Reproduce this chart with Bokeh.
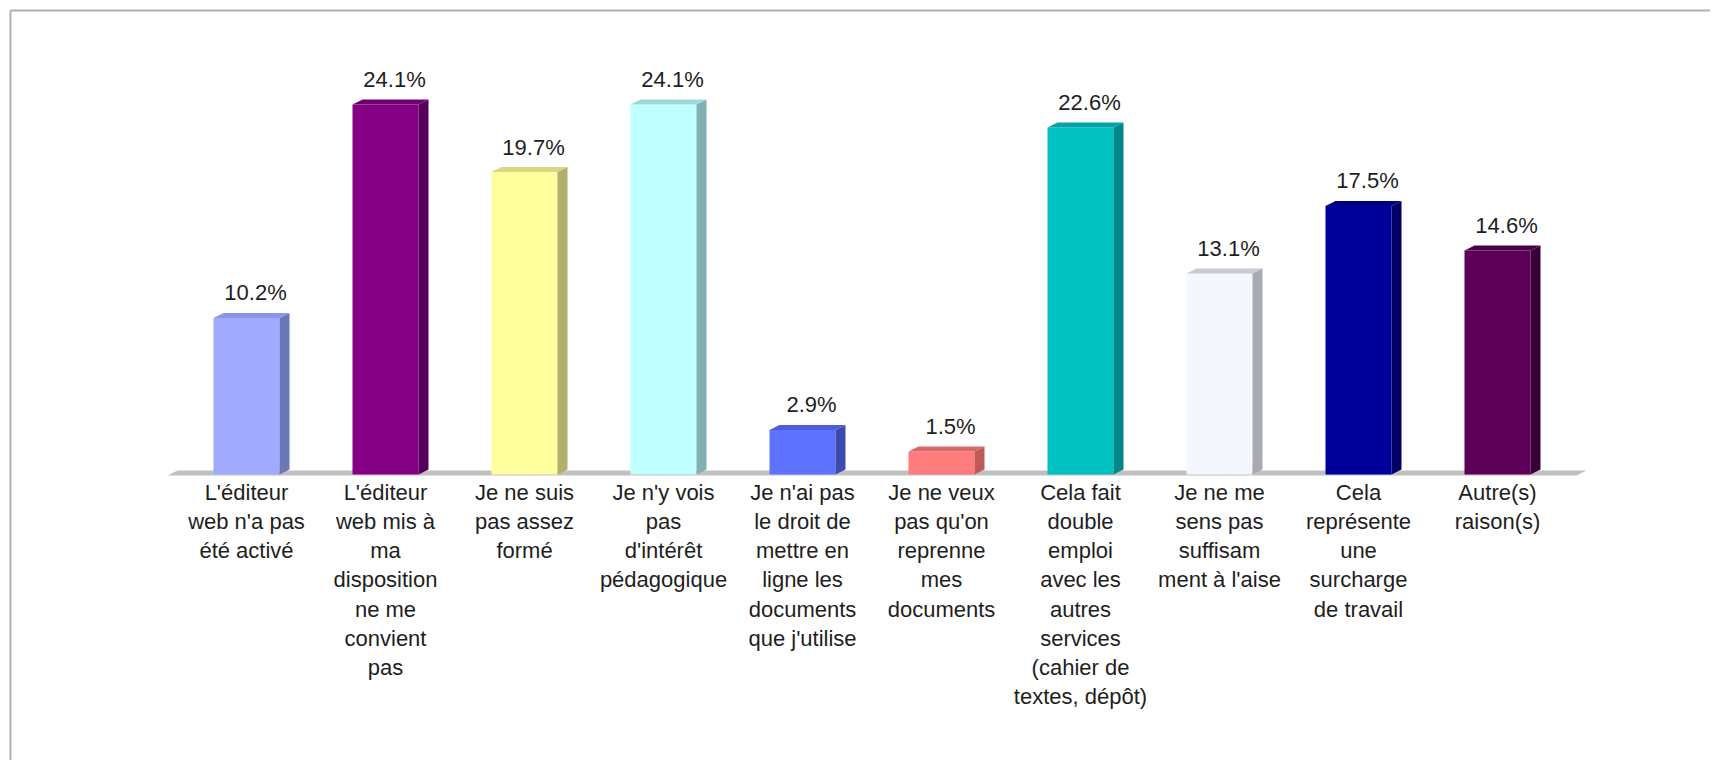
from bokeh.plotting import figure
from bokeh.models import Range1d, ColumnDataSource
from bokeh.core.properties import value
from bokeh.embed import file_html
from bokeh.resources import INLINE

categories = [
    "L'éditeur\nweb n'a pas\nété activé",
    "L'éditeur\nweb mis à\nma\ndisposition\nne me\nconvient\npas",
    "Je ne suis\npas assez\nformé",
    "Je n'y vois\npas\nd'intérêt\npédagogique",
    "Je n'ai pas\nle droit de\nmettre en\nligne les\ndocuments\nque j'utilise",
    "Je ne veux\npas qu'on\nreprenne\nmes\ndocuments",
    "Cela fait\ndouble\nemploi\navec les\nautres\nservices\n(cahier de\ntextes, dépôt)",
    "Je ne me\nsens pas\nsuffisam\nment à l'aise",
    "Cela\nreprésente\nune\nsurcharge\nde travail",
    "Autre(s)\nraison(s)",
]
values = [10.2, 24.1, 19.7, 24.1, 2.9, 1.5, 22.6, 13.1, 17.5, 14.6]
front_colors = ["#a0abff", "#860086", "#ffff9c", "#c0ffff", "#5e72ff",
                "#ff7c7c", "#00c0c0", "#f5f7ff", "#00009c", "#5e0058"]
side_colors = ["#6b76b5", "#55005a", "#b0b06a", "#80b0b0", "#3b4cb0",
               "#c05a5a", "#008888", "#a8aab0", "#000066", "#3a003a"]
top_colors = ["#8a95e6", "#6e006e", "#d8d884", "#a0d8d8", "#4c5ed8",
              "#d86868", "#00a4a4", "#c8cad4", "#000082", "#4a0048"]

n = len(values)
xs = list(range(n))
PX_X = 139.0   # pixels per category
PX_Y = 15.35   # pixels per percent
X0 = 246.0     # pixel of first category centre
Y0 = 474.0     # pixel of zero line
bw = 66 / PX_X
dx = 10.0 / PX_X
dy = 5.0 / PX_Y

W, H = 1710, 760
xr = Range1d(-X0 / PX_X, (W - X0) / PX_X)
yr = Range1d(-(H - Y0) / PX_Y, Y0 / PX_Y)
p = figure(width=W, height=H, output_backend="svg", toolbar_location=None,
           x_range=xr, y_range=yr,
           min_border_left=0, min_border_top=0, min_border_right=0, min_border_bottom=0)
p.axis.visible = False
p.grid.visible = False
p.outline_line_color = None
p.border_fill_color = "white"
p.background_fill_color = "white"

# chart frame (top and left edges)
fx = xr.start + 10 / PX_X
fy = yr.end - 10 / PX_Y
p.segment(x0=[fx, fx], y0=[fy, fy], x1=[xr.end, fx], y1=[fy, yr.start],
          line_color="#b0b0b0", line_width=2)

# floor
fl0 = (167 - X0) / PX_X
fl1 = n - 1 + (1576 - X0 - 9 * PX_X) / PX_X
fy0 = -1.0 / PX_Y
fy1 = fy0 + 5.0 / PX_Y
p.patch([fl0, fl1, fl1 + dx, fl0 + dx], [fy0, fy0, fy1, fy1],
        fill_color="#c0c0c0", line_color=None)

# bars
lefts = [x - bw / 2 for x in xs]
rights = [x + bw / 2 for x in xs]
p.quad(left=lefts, right=rights, bottom=0, top=values,
       fill_color=front_colors, line_color=None)
side_x = [[r, r + dx, r + dx, r] for r in rights]
side_y = [[0, dy, v + dy, v] for v in values]
p.patches(side_x, side_y, fill_color=side_colors, line_color=None)
top_x = [[l, r, r + dx, l + dx] for l, r in zip(lefts, rights)]
top_y = [[v, v, v + dy, v + dy] for v in values]
p.patches(top_x, top_y, fill_color=top_colors, line_color=None)

# value labels
lab = ColumnDataSource(dict(x=[x + 9 / PX_X for x in xs],
                            y=[v + 25 / PX_Y for v in values],
                            t=[f"{v:.1f}%" for v in values]))
p.text(x="x", y="y", text="t", source=lab, text_align="center",
       text_baseline="middle", text_font=value("Liberation Sans"),
       text_font_size="22px", text_color="#1e1e1e")

# category labels
cat = ColumnDataSource(dict(x=xs, y=[-5 / PX_Y] * n, t=categories))
p.text(x="x", y="y", text="t", source=cat, text_align="center",
       text_baseline="top", text_font=value("Liberation Sans"),
       text_font_size="22px", text_color="#1e1e1e", text_line_height=1.17)

open("out.html", "w").write(file_html(p, INLINE))
